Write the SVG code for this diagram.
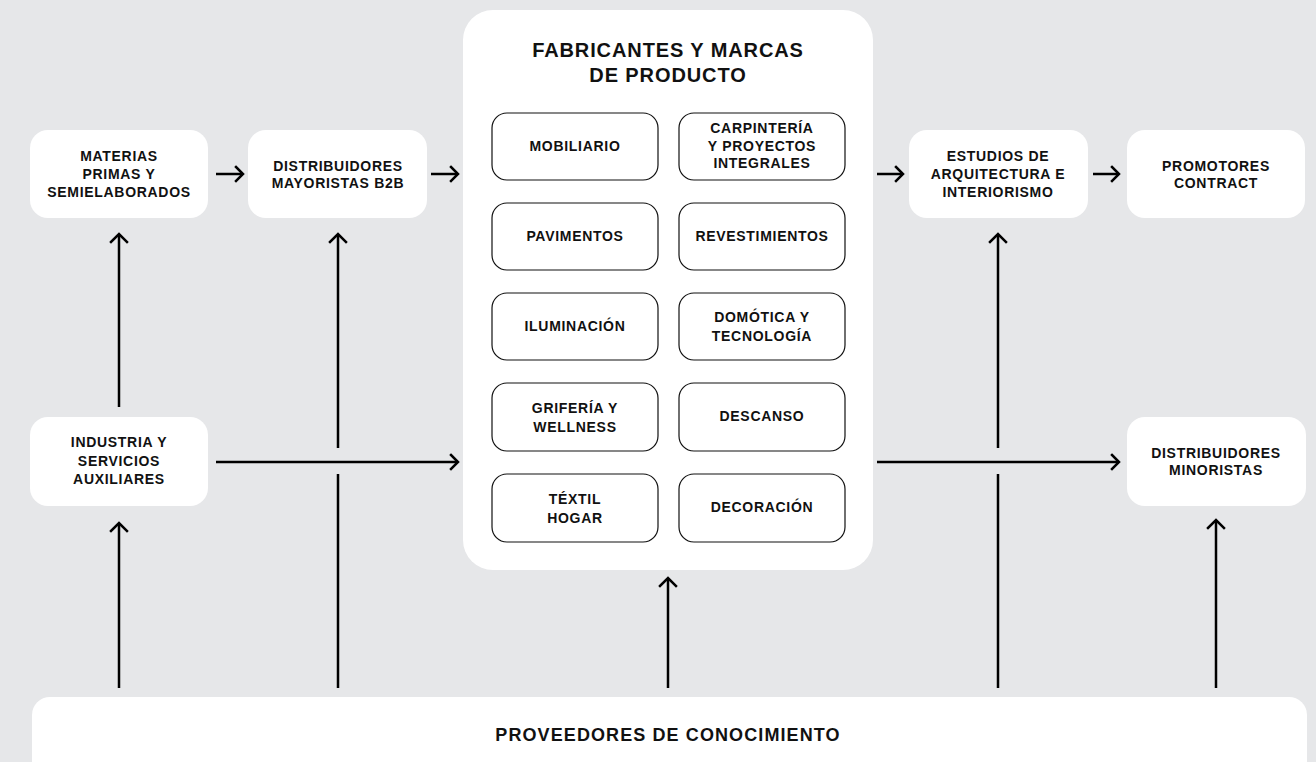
<svg xmlns="http://www.w3.org/2000/svg" width="1316" height="762" viewBox="0 0 1316 762">
<defs>
<style>
.bg{fill:#e6e7e9}
.node{fill:#ffffff}
.sub{fill:#ffffff;stroke:#111;stroke-width:1.2}
.t{font-family:"Liberation Sans",Arial,sans-serif;font-weight:700;font-size:14px;letter-spacing:0.7px;fill:#111;text-anchor:middle;dominant-baseline:central}
.title{font-family:"Liberation Sans",Arial,sans-serif;font-weight:700;font-size:20px;letter-spacing:0.9px;fill:#111;text-anchor:middle;dominant-baseline:central}
.big{font-family:"Liberation Sans",Arial,sans-serif;font-weight:700;font-size:18px;letter-spacing:1.1px;fill:#111;text-anchor:middle;dominant-baseline:central}
.ln{fill:none;stroke:#000;stroke-width:2.5}
.ah{fill:none;stroke:#000;stroke-width:2.5;stroke-linecap:square;stroke-linejoin:miter}
</style>
</defs>
<rect class="bg" x="0" y="0" width="1316" height="762"/>

<g id="connectors">
  <path class="ln" d="M216 174H243"/><path class="ah" d="M236 167L243 174L236 181"/>
  <path class="ln" d="M431 174H458"/><path class="ah" d="M451 167L458 174L451 181"/>
  <path class="ln" d="M877 174H903"/><path class="ah" d="M896 167L903 174L896 181"/>
  <path class="ln" d="M1093 174H1119"/><path class="ah" d="M1112 167L1119 174L1112 181"/>
  <path class="ln" d="M216 462H458"/><path class="ah" d="M451 455L458 462L451 469"/>
  <path class="ln" d="M877 462H1119"/><path class="ah" d="M1112 455L1119 462L1112 469"/>
  <path class="ln" d="M119 407V234"/><path class="ah" d="M111 242L119 234L127 242"/>
  <path class="ln" d="M119 688V523"/><path class="ah" d="M111 531L119 523L127 531"/>
  <path class="ln" d="M338 688V474M338 448V234"/><path class="ah" d="M330 242L338 234L346 242"/>
  <path class="ln" d="M668 688V578"/><path class="ah" d="M660 586L668 578L676 586"/>
  <path class="ln" d="M998 688V474M998 448V234"/><path class="ah" d="M990 242L998 234L1006 242"/>
  <path class="ln" d="M1216 688V520"/><path class="ah" d="M1208 528L1216 520L1224 528"/>
</g>

<g id="materias">
  <rect class="node" x="30" y="130" width="178" height="88" rx="18"/>
  <text class="t" x="119" y="156">MATERIAS</text>
  <text class="t" x="119" y="174">PRIMAS Y</text>
  <text class="t" x="119" y="192">SEMIELABORADOS</text>
</g>
<g id="mayoristas">
  <rect class="node" x="248" y="130" width="179" height="88" rx="18"/>
  <text class="t" x="338" y="166">DISTRIBUIDORES</text>
  <text class="t" x="338" y="183">MAYORISTAS B2B</text>
</g>
<g id="fabricantes">
  <rect class="node" x="463" y="10" width="410" height="560" rx="30"/>
  <text class="title" x="668" y="50">FABRICANTES Y MARCAS</text>
  <text class="title" x="668" y="75">DE PRODUCTO</text>
</g>
<g id="mobiliario">
  <rect class="sub" x="492" y="113" width="166" height="67" rx="15"/>
  <text class="t" x="575" y="146">MOBILIARIO</text>
</g>
<g id="carpinteria">
  <rect class="sub" x="679" y="113" width="166" height="67" rx="15"/>
  <text class="t" x="762" y="128">CARPINTERÍA</text>
  <text class="t" x="762" y="146">Y  PROYECTOS</text>
  <text class="t" x="762" y="163">INTEGRALES</text>
</g>
<g id="pavimentos">
  <rect class="sub" x="492" y="203" width="166" height="67" rx="15"/>
  <text class="t" x="575" y="236">PAVIMENTOS</text>
</g>
<g id="revestimientos">
  <rect class="sub" x="679" y="203" width="166" height="67" rx="15"/>
  <text class="t" x="762" y="236">REVESTIMIENTOS</text>
</g>
<g id="iluminacion">
  <rect class="sub" x="492" y="293" width="166" height="67" rx="15"/>
  <text class="t" x="575" y="326">ILUMINACIÓN</text>
</g>
<g id="domotica">
  <rect class="sub" x="679" y="293" width="166" height="67" rx="15"/>
  <text class="t" x="762" y="317">DOMÓTICA Y</text>
  <text class="t" x="762" y="336">TECNOLOGÍA</text>
</g>
<g id="griferia">
  <rect class="sub" x="492" y="383" width="166" height="68" rx="15"/>
  <text class="t" x="575" y="408">GRIFERÍA Y</text>
  <text class="t" x="575" y="427">WELLNESS</text>
</g>
<g id="descanso">
  <rect class="sub" x="679" y="383" width="166" height="68" rx="15"/>
  <text class="t" x="762" y="416">DESCANSO</text>
</g>
<g id="textil">
  <rect class="sub" x="492" y="474" width="166" height="68" rx="15"/>
  <text class="t" x="575" y="499">TÉXTIL</text>
  <text class="t" x="575" y="518">HOGAR</text>
</g>
<g id="decoracion">
  <rect class="sub" x="679" y="474" width="166" height="68" rx="15"/>
  <text class="t" x="762" y="507">DECORACIÓN</text>
</g>
<g id="estudios">
  <rect class="node" x="909" y="130" width="179" height="88" rx="18"/>
  <text class="t" x="998" y="156">ESTUDIOS DE</text>
  <text class="t" x="998" y="174">ARQUITECTURA E</text>
  <text class="t" x="998" y="192">INTERIORISMO</text>
</g>
<g id="promotores">
  <rect class="node" x="1127" y="130" width="178" height="88" rx="18"/>
  <text class="t" x="1216" y="166">PROMOTORES</text>
  <text class="t" x="1216" y="183">CONTRACT</text>
</g>
<g id="industria">
  <rect class="node" x="30" y="417" width="178" height="89" rx="18"/>
  <text class="t" x="119" y="442">INDUSTRIA Y</text>
  <text class="t" x="119" y="461">SERVICIOS</text>
  <text class="t" x="119" y="479">AUXILIARES</text>
</g>
<g id="minoristas">
  <rect class="node" x="1127" y="417" width="179" height="89" rx="18"/>
  <text class="t" x="1216" y="453">DISTRIBUIDORES</text>
  <text class="t" x="1216" y="470">MINORISTAS</text>
</g>
<g id="conocimiento">
  <rect class="node" x="32" y="697" width="1275" height="100" rx="18"/>
  <text class="big" x="668" y="735">PROVEEDORES DE CONOCIMIENTO</text>
</g>
</svg>
